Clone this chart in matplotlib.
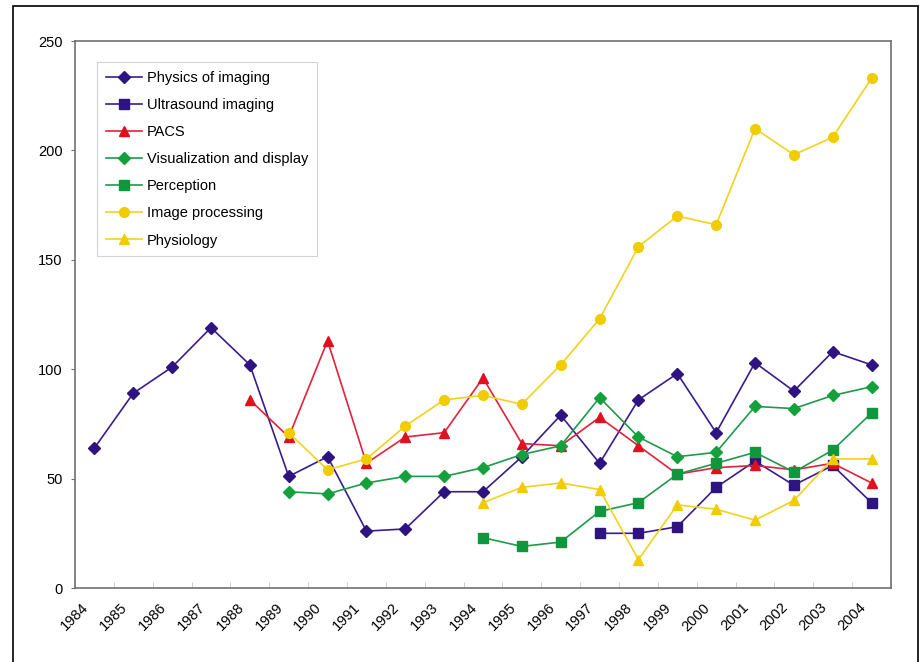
import numpy as np
import matplotlib.pyplot as plt
import matplotlib.transforms as mtransforms
from matplotlib.patches import Rectangle

plt.rcParams['font.family'] = ['Liberation Sans', 'DejaVu Sans']

years = list(range(1984, 2005))
N = None

# values per year 1984..2004 (None = no data)
physics = [64, 89, 101, 119, 102, 51, 60, 26, 27, 44, 44, 60, 79, 57, 86, 98, 71, 103, 90, 108, 102]
ultrasound = [N]*13 + [25, 25, 28, 46, 58, 47, 56, 39]
pacs = [N]*4 + [86, 69, 113, 57, 69, 71, 96, 66, 65, 78, 65, 52, 55, 56, 54, 57, 48]
visualization = [N]*5 + [44, 43, 48, 51, 51, 55, 61, 65, 87, 69, 60, 62, 83, 82, 88, 92]
perception = [N]*10 + [23, 19, 21, 35, 39, 52, 57, 62, 53, 63, 80]
image_proc = [N]*5 + [71, 54, 59, 74, 86, 88, 84, 102, 123, 156, 170, 166, 210, 198, 206, 233]
physiology = [N]*10 + [39, 46, 48, 45, 13, 38, 36, 31, 40, 59, 59]

series = [
    ("Physics of imaging", physics, "#3a1c8c", "#2e1480", "D"),
    ("Ultrasound imaging", ultrasound, "#3a1c8c", "#2e1480", "s"),
    ("PACS", pacs, "#e0223a", "#e0101e", "^"),
    ("Visualization and display", visualization, "#1e9a4a", "#14a03a", "D"),
    ("Perception", perception, "#1e9a4a", "#10963c", "s"),
    ("Image processing", image_proc, "#f2d21c", "#f0cc00", "o"),
    ("Physiology", physiology, "#f2d21c", "#f0cc00", "^"),
]

fig = plt.figure(figsize=(9.22, 6.62), dpi=100)
ax = fig.add_axes([75/922, 1-588/662, 816/922, 547/662])

x = np.arange(len(years)) + 0.5
for name, vals, lc, mc, m in series:
    y = np.array([np.nan if v is None else v for v in vals], dtype=float)
    ms = 6 if m == "D" else 7
    ax.plot(x, y, color=lc, lw=1.2, marker=m, ms=ms, mfc=mc, mec=mc, label=name)

ax.set_xlim(0, len(years))
ax.set_ylim(0, 250)
ax.set_yticks(range(0, 251, 50))
ax.set_xticks(x)
ax.set_xticklabels([str(v) for v in years], rotation=45, ha='right', va='top',
                   rotation_mode='anchor', fontsize=10.5)
ax.set_xticks(np.arange(len(years) + 1), minor=True)
ax.tick_params(axis='x', which='major', length=0, pad=9)
ax.tick_params(axis='x', which='minor', length=4, direction='in', color='#c8c8c8')
ax.tick_params(axis='y', length=3, color='#707070', labelsize=10.5, pad=6)
shift = mtransforms.ScaledTranslation(-0.13, 0, fig.dpi_scale_trans)
for lab in ax.get_xticklabels():
    lab.set_transform(lab.get_transform() + shift)
for s in ax.spines.values():
    s.set_color('#707070')
    s.set_linewidth(1.2)

leg = ax.legend(loc='upper left', bbox_to_anchor=(22/816, 1 - 21/547), fontsize=10.5,
                frameon=True, fancybox=False, edgecolor='#c8c8c8', borderaxespad=0,
                handlelength=2.5, labelspacing=0.9, borderpad=0.6, handletextpad=0.3)
leg.get_frame().set_linewidth(0.8)

fig.patches.append(Rectangle((13/922, -0.05), 905/922, 1.05 - 6/662,
                             transform=fig.transFigure, fill=False,
                             edgecolor='black', lw=1.2))

fig.savefig('out.png', dpi=100)
